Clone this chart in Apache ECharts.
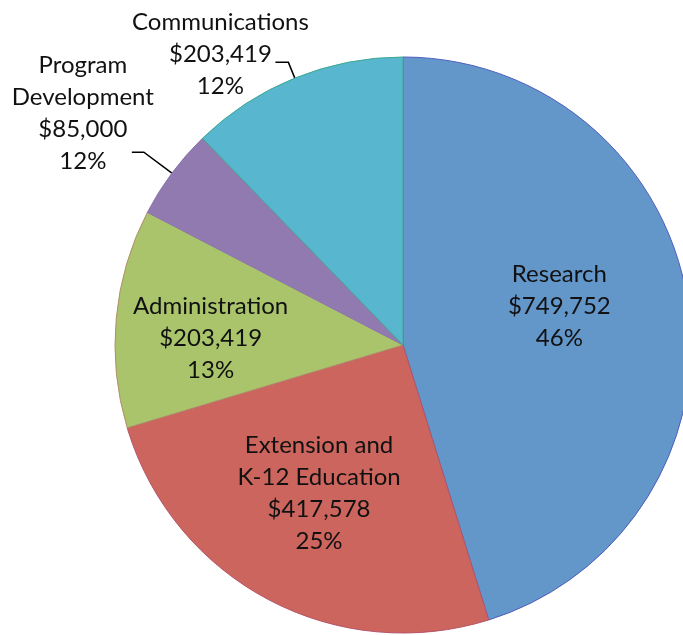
<!DOCTYPE html>
<html>
<head>
<meta charset="utf-8">
<script src="https://cdn.jsdelivr.net/npm/echarts@6/dist/echarts.min.js"></script>
<style>
  html, body { margin: 0; padding: 0; background: #fff; }
  #chart { width: 683px; height: 635px; }
</style>
</head>
<body>
<div id="chart"></div>
<script>
  // 数据
  const categories = ['Research', 'Extension and\nK-12 Education', 'Administration', 'Program\nDevelopment', 'Communications']
  const amounts = [749752, 417578, 203419, 85000, 203419]
  const percentLabels = ['46%', '25%', '13%', '12%', '12%']

  // 样式
  const sliceColors = ['#6396C9', '#CC655D', '#AAC46B', '#917AAF', '#58B6CF']
  const borderColors = ['#4F5FBF', '#B5556A', '#B0906A', '#8A78B0', '#3FA88E']

  // 每块标签的位置设置
  const labelSettings = [
    { position: 'inside', offset: [11, -17] },
    { position: 'inside', offset: [-15, 18] },
    { position: 'inside', offset: [-46, 7] },
    { position: 'outside', width: 88, padding: [0, 0, 77, 0] },
    { position: 'outside', width: 100, padding: [0, 0, 16, 0] }
  ]
  const lineSettings = [null, null, null, { length: 35, length2: 12 }, { length: 17, length2: 13 }]

  let myChart = echarts.init(document.getElementById('chart'))

  let pieData = categories.map((name, i) => {
    let item = {
      name: name,
      value: amounts[i],
      itemStyle: { color: sliceColors[i], borderColor: borderColors[i] },
      label: Object.assign({}, labelSettings[i])
    }
    if (lineSettings[i]) item.labelLine = lineSettings[i]
    return item
  })

  let option = {
    animation: false,
    backgroundColor: '#fff',
    series: [{
      type: 'pie',
      center: [403, 345],
      radius: 288,
      startAngle: 90,
      clockwise: true,
      avoidLabelOverlap: false,
      bleedMargin: 0,
      labelLayout: { hideOverlap: false },
      itemStyle: { borderWidth: 1 },
      label: {
        show: true,
        color: '#111',
        fontFamily: 'Lato',
        fontSize: 24,
        lineHeight: 32,
        overflow: 'none',
        formatter: function (p) {
          let lines = p.name.split('\n')
          lines.push('$' + p.value.toLocaleString('en-US'))
          lines.push(percentLabels[p.dataIndex])
          return lines.map(s => '{c|' + s + '}').join('\n')
        },
        rich: {
          c: { align: 'center', fontFamily: 'Lato', fontSize: 24, lineHeight: 32, color: '#111' }
        }
      },
      labelLine: {
        show: true,
        smooth: false,
        lineStyle: { color: '#000', width: 1.5 }
      },
      emphasis: { disabled: true },
      data: pieData
    }]
  }

  myChart.setOption(option)
</script>
</body>
</html>
